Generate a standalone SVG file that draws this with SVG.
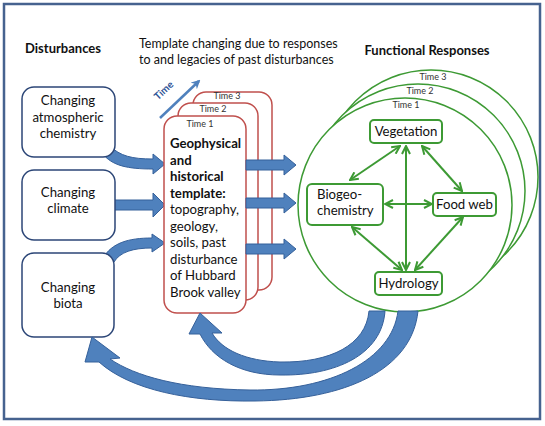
<svg xmlns="http://www.w3.org/2000/svg" width="545" height="426" viewBox="0 0 545 426">
<defs>
<style>
text{font-family:Lato,"Liberation Sans",sans-serif;fill:#111}
.t{font-size:13.2px}
.h{font-size:13px;font-weight:bold}
.s{font-size:12.5px}
.tm{font-size:9px;fill:#333}
.dist{fill:#fff;stroke:#2c4677;stroke-width:1.5}
.tpl{fill:#fff;stroke:#c0504d;stroke-width:1.5}
.circ{fill:#fff;stroke:#3d9a34;stroke-width:1.5}
.fn{fill:#fff;stroke:#3d9a34;stroke-width:2}
.blue{fill:#4f81bd;stroke:#35609a;stroke-width:1}
.g{stroke:#3d9a34;stroke-width:2;fill:none;marker-start:url(#ga);marker-end:url(#ga)}
</style>
<marker id="ga" viewBox="0 0 10 10" refX="9" refY="5" markerWidth="10" markerHeight="10" markerUnits="userSpaceOnUse" orient="auto-start-reverse">
<path d="M1,1 L9,5 L1,9" fill="none" stroke="#3d9a34" stroke-width="2"/>
</marker>
<marker id="ta" viewBox="0 0 10 10" refX="8" refY="5" markerWidth="9" markerHeight="9" markerUnits="userSpaceOnUse" orient="auto">
<path d="M0,0 L10,5 L0,10 L3,5 Z" fill="#4f81bd"/>
</marker>
</defs>
<rect x="4" y="4" width="536" height="415" fill="#fff" stroke="#46628f" stroke-width="2.5"/>

<text class="h" x="63" y="53" text-anchor="middle">Disturbances</text>
<text class="s" x="139" y="48">Template changing due to responses</text>
<text class="s" x="139" y="64">to and legacies of past disturbances</text>
<text class="h" x="427" y="55" text-anchor="middle">Functional Responses</text>

<g id="time-arrow">
<line x1="160" y1="118" x2="199" y2="81" stroke="#4f81bd" stroke-width="2.5" marker-end="url(#ta)"/>
<text x="166" y="93" font-size="10" font-weight="bold" style="fill:#2f5597" text-anchor="middle" transform="rotate(-43 166 93)">Time</text>
</g>

<g id="connectors-in">
<path class="blue" d="M110,146 C120,156 132,159 153,159 L153,154 L165,164 L153,174 L153,169 C128,169 112,166 102,153 Z"/>
<path class="blue" d="M112,200 L153,200 L153,193 L165,205 L153,217 L153,210 L112,210 Z"/>
<path class="blue" d="M103,258 C112,243 128,238 152,238 L152,234 L165,243 L152,252 L152,248 C133,248 120,252 114,262 Z"/>
</g>

<g id="atmospheric">
<rect class="dist" x="22" y="87" width="93" height="70" rx="12"/>
<text class="t" x="68" y="105" text-anchor="middle">Changing</text>
<text class="t" x="68" y="122" text-anchor="middle">atmospheric</text>
<text class="t" x="68" y="138" text-anchor="middle">chemistry</text>
</g>
<g id="climate">
<rect class="dist" x="22" y="170" width="93" height="70" rx="12"/>
<text class="t" x="68" y="197" text-anchor="middle">Changing</text>
<text class="t" x="68" y="213" text-anchor="middle">climate</text>
</g>
<g id="biota">
<rect class="dist" x="22" y="253" width="92" height="84" rx="12"/>
<text class="t" x="68" y="292" text-anchor="middle">Changing</text>
<text class="t" x="68" y="308" text-anchor="middle">biota</text>
</g>

<g id="template">
<rect class="tpl" x="193" y="92" width="79" height="198" rx="13"/>
<text class="tm" x="227" y="99" text-anchor="middle">Time 3</text>
<rect class="tpl" x="178" y="103" width="80" height="197" rx="13"/>
<text class="tm" x="213" y="112" text-anchor="middle">Time 2</text>
<rect class="tpl" x="164" y="116" width="82" height="197" rx="13"/>
<text class="tm" x="200" y="127" text-anchor="middle">Time 1</text>
<text class="t" x="170" y="148" font-weight="bold">Geophysical</text>
<text class="t" x="170" y="165" font-weight="bold">and</text>
<text class="t" x="170" y="181" font-weight="bold">historical</text>
<text class="t" x="170" y="198" font-weight="bold">template:</text>
<text class="t" x="170" y="214">topography,</text>
<text class="t" x="170" y="231">geology,</text>
<text class="t" x="170" y="247">soils, past</text>
<text class="t" x="170" y="264">disturbance</text>
<text class="t" x="170" y="280">of Hubbard</text>
<text class="t" x="170" y="297">Brook valley</text>
</g>

<g id="connectors-out">
<path class="blue" d="M246,160 L284,160 L284,155 L296,165 L284,175 L284,170 L246,170 Z"/>
<path class="blue" d="M246,198 L284,198 L284,193 L296,203 L284,213 L284,208 L246,208 Z"/>
<path class="blue" d="M246,244 L284,244 L284,239 L296,249 L284,259 L284,254 L246,254 Z"/>
</g>

<g id="responses">
<circle class="circ" cx="431" cy="177" r="107"/>
<text class="tm" x="433" y="80" text-anchor="middle">Time 3</text>
<circle class="circ" cx="418" cy="191" r="107"/>
<text class="tm" x="420" y="94" text-anchor="middle">Time 2</text>
<circle class="circ" cx="405" cy="205" r="107"/>
<text class="tm" x="406" y="108" text-anchor="middle">Time 1</text>
</g>

<g id="connectors-green">
<line class="g" x1="350" y1="180" x2="400" y2="146"/>
<line class="g" x1="406" y1="146" x2="406" y2="270"/>
<line class="g" x1="422" y1="146" x2="462" y2="191"/>
<line class="g" x1="385" y1="204" x2="432" y2="204"/>
<line class="g" x1="352" y1="227" x2="402" y2="270"/>
<line class="g" x1="463" y1="217" x2="415" y2="270"/>
</g>

<g id="vegetation">
<rect class="fn" x="370" y="120" width="72" height="23" rx="4"/>
<text class="t" x="406" y="136" text-anchor="middle">Vegetation</text>
</g>
<g id="biogeochemistry">
<rect class="fn" x="307" y="184" width="76" height="41" rx="5"/>
<text class="t" x="317" y="199">Biogeo-</text>
<text class="t" x="317" y="215">chemistry</text>
</g>
<g id="foodweb">
<rect class="fn" x="433" y="193" width="63" height="23" rx="4"/>
<text class="t" x="464.5" y="209" text-anchor="middle">Food web</text>
</g>
<g id="hydrology">
<rect class="fn" x="375" y="272" width="67" height="23" rx="4"/>
<text class="t" x="408.5" y="288" text-anchor="middle">Hydrology</text>
</g>

<g id="connectors-feedback">
<path class="blue" d="M369,311 C366,345 330,363 280,362 C246,361 222,350 212,333 L222,333 L200,313 L189,334 L200,334 C212,358 240,375 280,375 C335,376 382,355 385,311 Z"/>
<path class="blue" d="M398,311 C392,360 330,391 250,390 C180,389 135,376 110,359 L120,358 L92,337 L85,362 L99,362 C130,390 190,402 255,401 C345,400 412,370 418,311 Z"/>
</g>
</svg>
